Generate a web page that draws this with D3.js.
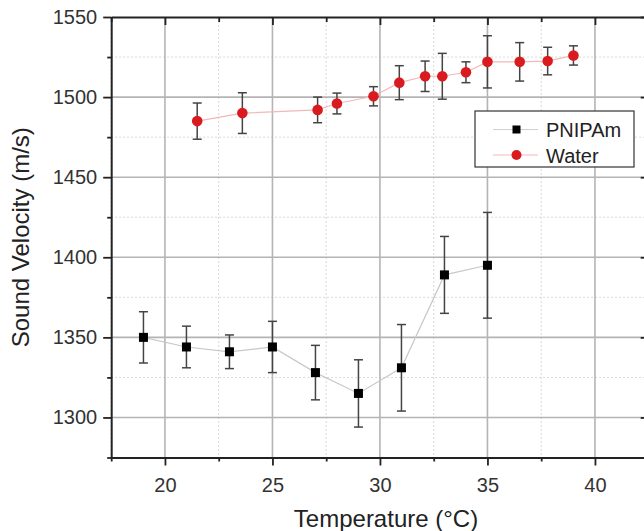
<!DOCTYPE html>
<html>
<head>
<meta charset="utf-8">
<script src="https://cdn.jsdelivr.net/npm/d3@7"></script>
<style>
  html, body { margin: 0; padding: 0; background: #fff; }
  svg { display: block; font-family: Arial, "Liberation Sans", Helvetica, sans-serif; }
</style>
</head>
<body>
<div id="chart"></div>
<script>
// ---- data ----
const pnipamT   = [19, 21, 23, 25, 27, 29, 31, 33, 35];
const pnipamV   = [1350, 1344, 1341, 1344, 1328, 1315, 1331, 1389, 1395];
const pnipamErr = [16, 13, 10.5, 16, 17, 21, 27, 24, 33];

const waterT    = [21.5, 23.6, 27.1, 28, 29.7, 30.9, 32.1, 32.9, 34, 35, 36.5, 37.8, 39];
const waterV    = [1485, 1490, 1492, 1496, 1500.5, 1509, 1513, 1513, 1515.5, 1522, 1522, 1522.5, 1526];
const waterErr  = [11.3, 12.7, 8, 6.5, 6, 10.6, 9.5, 14.3, 6.5, 16.3, 12, 8.6, 6];

const xMajor = [20, 25, 30, 35, 40];
const xMinor = [17.5, 22.5, 27.5, 32.5, 37.5, 42.5];
const yMajor = [1300, 1350, 1400, 1450, 1500, 1550];
const yMinor = [1275, 1325, 1375, 1425, 1475, 1525];
const seriesNames = ["PNIPAm", "Water"];
const xTitle = "Temperature (°C)";
const yTitle = "Sound Velocity (m/s)";

// ---- layout ----
const W = 644, H = 531;
const x = d3.scaleLinear().domain([17.5, 42.5]).range([111.2, 648.7]);
const y = d3.scaleLinear().domain([1275, 1550]).range([457.5, 17]);

const svg = d3.select("#chart").append("svg").attr("width", W).attr("height", H);

// grid
const grid = svg.append("g");
grid.selectAll(".vminor").data(xMinor).join("line")
  .attr("x1", d => x(d)).attr("x2", d => x(d)).attr("y1", y(1550)).attr("y2", y(1275))
  .attr("stroke", "#d8d8d8").attr("stroke-width", 1).attr("stroke-dasharray", "2,2");
grid.selectAll(".hminor").data(yMinor).join("line")
  .attr("y1", d => y(d)).attr("y2", d => y(d)).attr("x1", x(17.5)).attr("x2", x(42.5))
  .attr("stroke", "#d8d8d8").attr("stroke-width", 1).attr("stroke-dasharray", "2,2");
grid.selectAll(".vmajor").data(xMajor).join("line")
  .attr("x1", d => x(d)).attr("x2", d => x(d)).attr("y1", y(1550)).attr("y2", y(1275))
  .attr("stroke", "#b4b4b4").attr("stroke-width", 1.6);
grid.selectAll(".hmajor").data(yMajor.filter(v => v < 1550)).join("line")
  .attr("y1", d => y(d)).attr("y2", d => y(d)).attr("x1", x(17.5)).attr("x2", x(42.5))
  .attr("stroke", "#b4b4b4").attr("stroke-width", 1.6);

// axes
function styleAxis(g) {
  g.select(".domain").attr("stroke", "#222").attr("stroke-width", 2);
  g.selectAll(".tick line").attr("stroke", "#222").attr("stroke-width", 1.8);
  g.selectAll(".tick text").attr("fill", "#333").style("font-size", "20px");
}
function styleMinor(g) {
  g.select(".domain").remove();
  g.selectAll("line").attr("stroke", "#222").attr("stroke-width", 1.8);
}
// bottom
const axBottom = svg.append("g").attr("transform", `translate(0,${y(1275)})`)
  .call(d3.axisBottom(x).tickValues(xMajor).tickSize(8).tickPadding(12).tickSizeOuter(0));
styleAxis(axBottom);
svg.append("g").attr("transform", `translate(0,${y(1275)})`)
  .call(d3.axisBottom(x).tickValues(xMinor).tickSize(4).tickFormat("").tickSizeOuter(0))
  .call(styleMinor);
// top (inward)
const axTop = svg.append("g").attr("transform", `translate(0,${y(1550)})`)
  .call(d3.axisBottom(x).tickValues(xMajor).tickSize(8).tickFormat("").tickSizeOuter(0));
styleAxis(axTop);
svg.append("g").attr("transform", `translate(0,${y(1550)})`)
  .call(d3.axisBottom(x).tickValues(xMinor).tickSize(5).tickFormat("").tickSizeOuter(0))
  .call(styleMinor);
// left
const axLeft = svg.append("g").attr("transform", `translate(${x(17.5)},0)`)
  .call(d3.axisLeft(y).tickValues(yMajor).tickSize(8).tickPadding(6).tickSizeOuter(0).tickFormat(d3.format("d")));
styleAxis(axLeft);
svg.append("g").attr("transform", `translate(${x(17.5)},0)`)
  .call(d3.axisLeft(y).tickValues(yMinor).tickSize(4).tickFormat("").tickSizeOuter(0))
  .call(styleMinor);
// right (inward)
const axRight = svg.append("g").attr("transform", `translate(${x(42.5)},0)`)
  .call(d3.axisRight(y).tickValues(yMajor).tickSize(-8).tickFormat("").tickSizeOuter(0));
styleAxis(axRight);
svg.append("g").attr("transform", `translate(${x(42.5)},0)`)
  .call(d3.axisRight(y).tickValues(yMinor).tickSize(-4).tickFormat("").tickSizeOuter(0))
  .call(styleMinor);

// titles
svg.append("text").attr("transform", `translate(29,${(y(1275) + y(1550)) / 2}) rotate(-90)`)
  .attr("text-anchor", "middle").attr("fill", "#222").style("font-size", "24px").text(yTitle);
svg.append("text").attr("x", 386).attr("y", 527)
  .attr("text-anchor", "middle").attr("fill", "#222").style("font-size", "24px").text(xTitle);

// series
const pn = pnipamT.map((t, i) => ({ t, v: pnipamV[i], e: pnipamErr[i] }));
const wa = waterT.map((t, i) => ({ t, v: waterV[i], e: waterErr[i] }));
const line = d3.line().x(d => x(d.t)).y(d => y(d.v));
const RED = "#d91a1f";

svg.append("path").datum(pn).attr("d", line).attr("fill", "none").attr("stroke", "#c8c8c8").attr("stroke-width", 1.2);
svg.append("path").datum(wa).attr("d", line).attr("fill", "none").attr("stroke", "#f3b8b8").attr("stroke-width", 1.2);

function errorBars(data) {
  const g = svg.append("g").attr("stroke", "#444").attr("stroke-width", 1.5);
  g.selectAll(".v").data(data).join("line")
    .attr("x1", d => x(d.t)).attr("x2", d => x(d.t))
    .attr("y1", d => y(d.v + d.e)).attr("y2", d => y(d.v - d.e));
  g.selectAll(".c1").data(data).join("line")
    .attr("x1", d => x(d.t) - 4.5).attr("x2", d => x(d.t) + 4.5)
    .attr("y1", d => y(d.v + d.e)).attr("y2", d => y(d.v + d.e));
  g.selectAll(".c2").data(data).join("line")
    .attr("x1", d => x(d.t) - 4.5).attr("x2", d => x(d.t) + 4.5)
    .attr("y1", d => y(d.v - d.e)).attr("y2", d => y(d.v - d.e));
}
errorBars(pn);
errorBars(wa);

svg.append("g").selectAll("rect").data(pn).join("rect")
  .attr("x", d => x(d.t) - 4.5).attr("y", d => y(d.v) - 4.5)
  .attr("width", 9).attr("height", 9).attr("fill", "#000");
svg.append("g").selectAll("circle").data(wa).join("circle")
  .attr("cx", d => x(d.t)).attr("cy", d => y(d.v)).attr("r", 5.3).attr("fill", RED);

// legend
const lg = svg.append("g");
lg.append("rect").attr("x", 475).attr("y", 111).attr("width", 159).attr("height", 56)
  .attr("fill", "#fff").attr("stroke", "#333").attr("stroke-width", 1.2);
const rows = [
  { name: seriesNames[0], y: 129.5, lineColor: "#d0d0d0" },
  { name: seriesNames[1], y: 155, lineColor: "#f3b8b8" }
];
rows.forEach((r, i) => {
  lg.append("line").attr("x1", 493).attr("x2", 538).attr("y1", r.y).attr("y2", r.y)
    .attr("stroke", r.lineColor).attr("stroke-width", 1.2);
  if (i === 0) {
    lg.append("rect").attr("x", 516.5 - 4).attr("y", r.y - 4).attr("width", 8).attr("height", 8).attr("fill", "#000");
  } else {
    lg.append("circle").attr("cx", 516.5).attr("cy", r.y).attr("r", 5).attr("fill", RED);
  }
  lg.append("text").attr("x", 546).attr("y", r.y + 7.5).attr("fill", "#222")
    .style("font-size", "20px").text(r.name);
});
</script>
</body>
</html>
